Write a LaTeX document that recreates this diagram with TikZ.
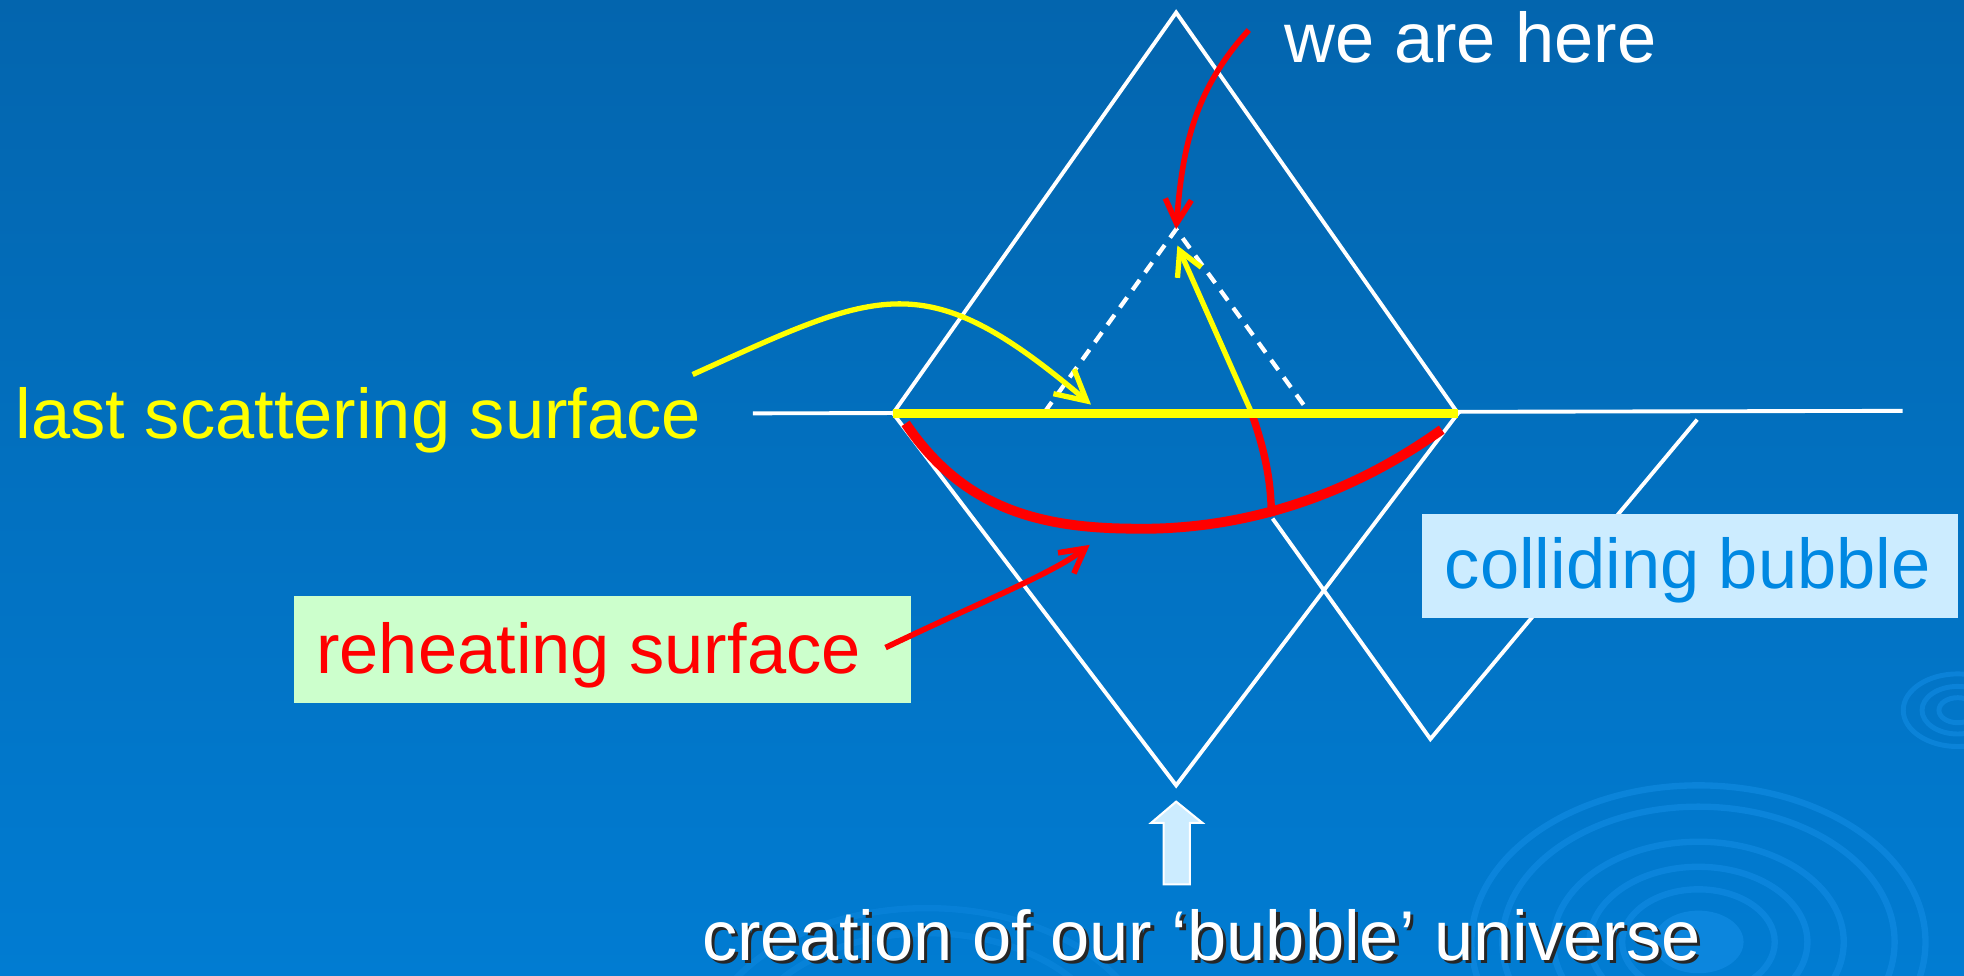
\documentclass[tikz,border=0pt]{standalone}
\usepackage{fontspec}
\setmainfont{Liberation Sans}
\usetikzlibrary{arrows.meta}
\definecolor{bgtop}{RGB}{3,101,174}
\definecolor{bgbot}{RGB}{1,124,210}
\definecolor{ripple}{RGB}{20,142,230}
\definecolor{lsyellow}{RGB}{255,255,0}
\definecolor{rhred}{RGB}{255,0,0}
\definecolor{boxgreen}{RGB}{204,255,204}
\definecolor{boxblue}{RGB}{204,236,255}
\definecolor{cbtext}{RGB}{0,136,226}
\begin{document}
\begin{tikzpicture}[x=0.0125cm, y=-0.0125cm,
    lightcone/.style={white, line width=1.1pt},
    pastcone/.style={white, line width=1.2pt, dash pattern=on 3.5pt off 2.6pt},
    lbl/.style={inner sep=0pt, anchor=base west, font=\fontsize{20}{24}\selectfont},
    barb/.style={-{Straight Barb[length=2.4mm, width=2.6mm]}},
    rip/.style={ripple, line width=1.8pt, opacity=0.55}]
    % Background
    \fill[top color=bgtop, bottom color=bgbot] (0,0) rectangle (1568,779);
    \useasboundingbox (0,0) rectangle (1568,779);
    \begin{scope}
      \clip (0,0) rectangle (1568,779);
      \foreach \r in {125,108,80,60,42} {
        \draw[rip] (1356,752) ellipse [x radius=1.45*\r, y radius=\r];
      }
      \fill[ripple, opacity=0.6] (1356,752) ellipse [x radius=36, y radius=25];
      \foreach \r in {10,19,29} {
        \draw[rip, line width=1.4pt] (1563,567) ellipse [x radius=1.5*\r, y radius=\r];
      }
      \foreach \r in {120,100} {
        \draw[rip, opacity=0.35] (740,845) ellipse [x radius=1.5*\r, y radius=\r];
      }
    \end{scope}
    % Nodes
    \coordinate (top)    at (939,10);
    \coordinate (left)   at (713,330);
    \coordinate (right)  at (1164,330);
    \coordinate (bottom) at (939,627);
    \coordinate (hl)     at (601,330);
    \coordinate (hr)     at (1519,328);
    \coordinate (here)   at (939,183);
    \coordinate (pl)     at (834,329);
    \coordinate (pr)     at (1045,329);
    \coordinate (vtop)   at (1016,414);
    \coordinate (vbot)   at (1142,590);
    \coordinate (vright) at (1355,335);
    \coordinate (emit)   at (999,329);
    \coordinate (photon) at (940,196);
    \coordinate (wall)   at (1015,412);
    \coordinate (rhl)    at (723,338);
    \coordinate (rhm)    at (900,422);
    \coordinate (rhr)    at (1151,343);
    \coordinate (lsend)  at (871,323);
    \coordinate (rhend)  at (870,435);
    \node[lbl, text=white]    (wah) at (1025,50)  {we are here};
    \node[lbl, text=lsyellow] (lss) at (12,350)   {last scattering surface};
    \coordinate (wahs) at (997,24);
    \coordinate (lsss) at (553,299);
    % Edges (light cones)
    \draw[lightcone] (top) -- (left) -- (bottom) -- (right) -- cycle;
    \draw[lightcone] (hl) -- (hr);
    \draw[lightcone] (vtop) -- (vbot) -- (vright);
    \draw[pastcone] (pl) -- (here) -- (pr);
    % Surfaces
    \draw[rhred, line width=2.8pt] (rhl) .. controls (765,400) and (820,421) .. (rhm)
        .. controls (970,424) and (1060,408) .. (rhr);
    \draw[rhred, line width=2.1pt] (emit) .. controls (1010,360) and (1015,385) .. (wall);
    \draw[lsyellow, line width=2.7pt] (left) -- (right);
    % Boxes
    \fill[boxgreen] (235,476) rectangle (727,561);
    \node[lbl, text=rhred] (rhs) at (252,538) {reheating surface};
    \coordinate (rhss) at (707,517);
    \fill[boxblue] (1135,410) rectangle (1563,493);
    \node[lbl, text=cbtext] (cb) at (1153,470) {colliding bubble};
    % Arrows
    \draw[lsyellow, line width=1.5pt, barb] (emit) -- (photon);
    \draw[lsyellow, line width=1.5pt, -{Straight Barb[length=3mm, width=3.2mm]}]
        (lsss) .. controls (703,231) and (738,210) .. (lsend);
    \draw[rhred, line width=1.6pt, barb] (wahs) .. controls (955,70) and (944,115) .. (here);
    \draw[rhred, line width=1.6pt, barb] (rhss) .. controls (780,482) and (840,458) .. (rhend);
    % Creation
    \filldraw[fill=boxblue, draw=white, line width=0.6pt] (939,640) -- (960,657) -- (950,657)
        -- (950,706) -- (929,706) -- (929,657) -- (919,657) -- cycle;
    \node[lbl, text=black!85] (crs) at (562.5,769.5) {creation of our ‘bubble’ universe};
    \node[lbl, text=white] (cr) at (560,767) {creation of our ‘bubble’ universe};
\end{tikzpicture}
\end{document}
